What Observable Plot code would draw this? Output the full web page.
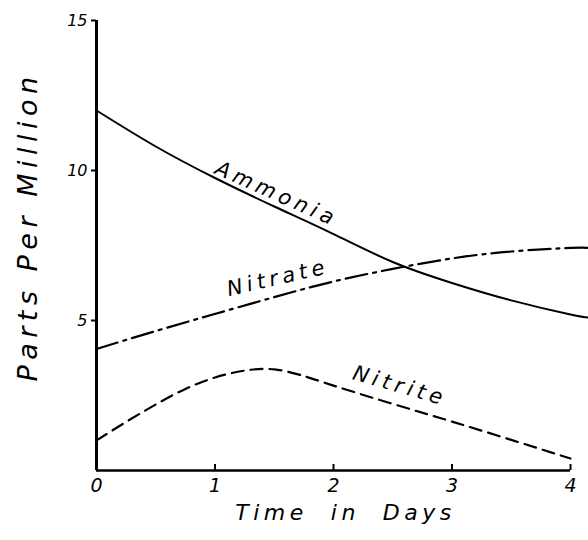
<!DOCTYPE html>
<html>
<head>
<meta charset="utf-8">
<script src="https://cdn.jsdelivr.net/npm/d3@7"></script>
<script src="https://cdn.jsdelivr.net/npm/@observablehq/plot@0.6"></script>
<style>
  html, body { margin: 0; padding: 0; background: #fff; }
  #chart { width: 588px; height: 540px; }
</style>
</head>
<body>
<div id="chart"></div>
<script>
// ---- data ----
const ammoniaDays = [0, 0.5, 1, 1.5, 2, 2.5, 3, 3.5, 4, 4.15];
const ammonia     = [12.0, 10.8, 9.75, 8.8, 7.88, 6.95, 6.25, 5.67, 5.2, 5.1];
const nitrateDays = [0, 0.5, 1, 1.5, 2, 2.5, 3, 3.5, 4, 4.15];
const nitrate     = [4.05, 4.65, 5.22, 5.78, 6.3, 6.72, 7.07, 7.3, 7.42, 7.42];
const nitriteDays = [0, 0.25, 0.5, 0.75, 1, 1.25, 1.5, 1.75, 2, 2.5, 3, 3.5, 4];
const nitrite     = [1.0, 1.62, 2.2, 2.72, 3.1, 3.33, 3.37, 3.15, 2.83, 2.22, 1.63, 1.02, 0.4];

const xTicks = [0, 1, 2, 3, 4];
const yTicks = [5, 10, 15];
const seriesNames = ["Ammonia", "Nitrate", "Nitrite"];
// label centre (day, ppm) and rotation for each series name
const labelDays = [1.52, 1.53, 2.56];
const labelPpm  = [9.22, 6.42, 2.82];
const labelRot  = [24, -13, 16];

const xTitle = "Time  in  Days";
const yTitle = "Parts Per Million";

// ---- build tables ----
const toRows = (xs, ys, name) => xs.map((d, i) => ({day: d, ppm: ys[i], series: name}));
const ammoniaRows = toRows(ammoniaDays, ammonia, "Ammonia");
const nitrateRows = toRows(nitrateDays, nitrate, "Nitrate");
const nitriteRows = toRows(nitriteDays, nitrite, "Nitrite");
const labels = seriesNames.map((n, i) => ({name: n, day: labelDays[i], ppm: labelPpm[i], rot: labelRot[i]}));

const font = "'DejaVu Sans', sans-serif";

const chart = Plot.plot({
  width: 588,
  height: 540,
  marginLeft: 96,
  marginRight: 18,
  marginTop: 20,
  marginBottom: 70,
  style: {fontFamily: font, background: "#fff", color: "#000"},
  x: {domain: [0, 4]},
  y: {domain: [0, 15]},
  marks: [
    Plot.axisY({ticks: yTicks, tickSize: 5, tickPadding: 4, tickFormat: d => String(d),
      fontSize: 16, fontStyle: "italic", label: null, strokeWidth: 2}),
    Plot.axisX({ticks: xTicks, tickSize: 0, tickPadding: 8, tickFormat: d => String(d),
      fontSize: 19, fontStyle: "italic", label: null}),
    Plot.ruleX([0], {stroke: "#000", strokeWidth: 3}),
    Plot.ruleY([0], {stroke: "#000", strokeWidth: 2.5}),
    Plot.ruleX(xTicks.slice(1), {y1: 0, y2: 0.2, stroke: "#000", strokeWidth: 2}),
    Plot.line(ammoniaRows, {x: "day", y: "ppm", curve: "natural", stroke: "#000", strokeWidth: 2}),
    Plot.line(nitrateRows, {x: "day", y: "ppm", curve: "natural", stroke: "#000", strokeWidth: 2.2,
      strokeDasharray: "22,6,3,6"}),
    Plot.line(nitriteRows, {x: "day", y: "ppm", curve: "natural", stroke: "#000", strokeWidth: 2.2,
      strokeDasharray: "12,7"}),
    Plot.text(labels, {x: "day", y: "ppm", text: "name", rotate: "rot", fontSize: 21,
      lineAnchor: "middle", fontStyle: "italic", fill: "#000"}),
    Plot.text([yTitle], {frameAnchor: "left", textAnchor: "middle", dx: -68, dy: -19, rotate: -90,
      fontSize: 27, fontStyle: "italic", fill: "#000"}),
    Plot.text([xTitle], {frameAnchor: "bottom", textAnchor: "middle", dx: 12, dy: 49, fontSize: 22,
      fontStyle: "italic", fill: "#000"})
  ]
});

document.getElementById("chart").appendChild(chart);
d3.select(chart).selectAll("text").each(function() {
  const t = this.textContent;
  if (t === yTitle) d3.select(this).attr("letter-spacing", "5.5px").style("white-space", "pre");
  if (t === xTitle) d3.select(this).attr("letter-spacing", "4.5px").style("white-space", "pre");
  if (seriesNames.includes(t)) d3.select(this).attr("letter-spacing", "4.5px");
});
</script>
</body>
</html>
